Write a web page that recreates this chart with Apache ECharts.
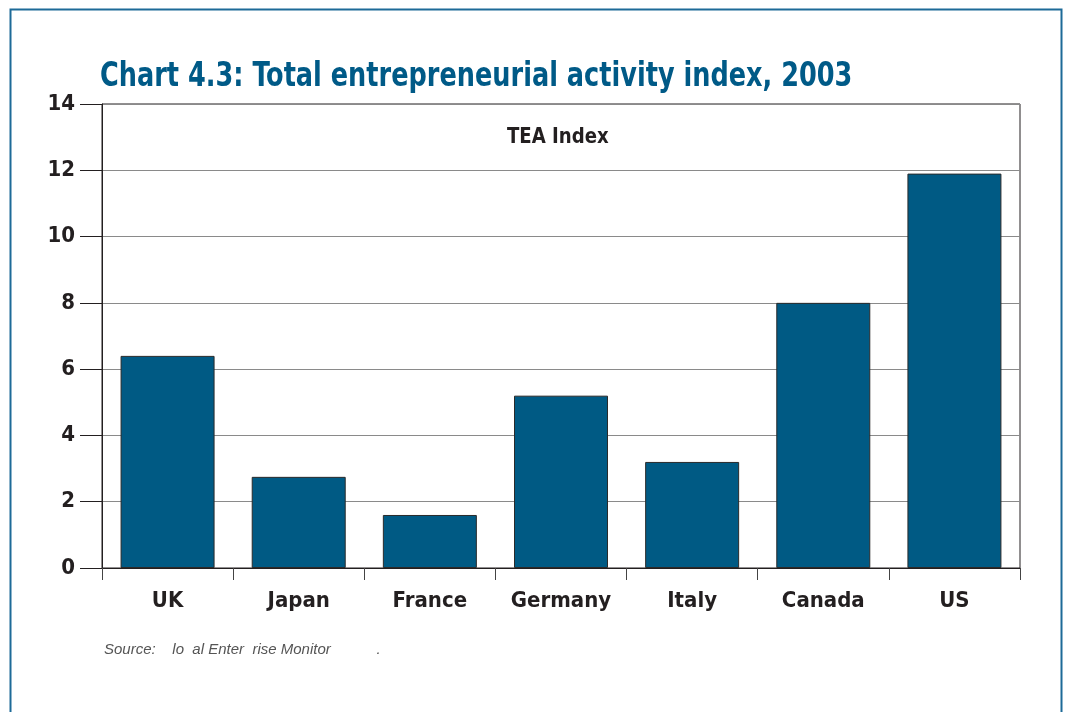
<!DOCTYPE html>
<html>
<head>
<meta charset="utf-8">
<script src="https://cdn.jsdelivr.net/npm/echarts@6/dist/echarts.min.js"></script>
<style>
html,body{margin:0;padding:0;background:#fff;}
#chart{width:1068px;height:712px;}
</style>
</head>
<body>
<div id="chart"></div>
<script>
const categories = ['UK', 'Japan', 'France', 'Germany', 'Italy', 'Canada', 'US'];
const teaValues = [6.4, 2.75, 1.6, 5.2, 3.2, 8.0, 11.9];
const yMin = 0, yMax = 14, yStep = 2;
const titleText = 'Chart 4.3: Total entrepreneurial activity index, 2003';
const seriesName = 'TEA Index';
const sourceText = 'Source:    lo  al Enter  rise Monitor           .';

const narrow = '"DejaVu Sans Condensed", sans-serif';
const chart = echarts.init(document.getElementById('chart'));
chart.setOption({
  animation: false,
  backgroundColor: '#ffffff',
  grid: {
    left: 102, right: 48, top: 104, bottom: 144,
    show: true, borderColor: '#231f20', borderWidth: 1, backgroundColor: 'transparent'
  },
  graphic: [
    { type: 'rect', shape: { x: 10.5, y: 9.5, width: 1051, height: 720 },
      style: { fill: 'none', stroke: '#1d6a98', lineWidth: 2 }, silent: true },
    { type: 'text', x: 100, y: 60, scaleX: 0.836, originX: 0,
      style: { text: titleText, fill: '#005a87', font: 'bold 34px ' + narrow } },
    { type: 'text', x: 104, y: 642,
      style: { text: sourceText, fill: '#555555', font: 'italic 15px "Liberation Sans", sans-serif' } },
    { type: 'text', x: 507, y: 127, scaleX: 0.96, originX: 0,
      style: { text: seriesName, fill: '#231f20', font: 'bold 21px ' + narrow } }
  ],
  xAxis: {
    type: 'category',
    data: categories,
    boundaryGap: true,
    axisLine: { show: true, lineStyle: { color: '#231f20', width: 1 } },
    axisTick: { show: true, interval: 0, alignWithLabel: false, length: 12, lineStyle: { color: '#444' } },
    axisLabel: { interval: 0, margin: 22, color: '#231f20', fontSize: 22, fontWeight: 'bold', fontFamily: narrow }
  },
  yAxis: {
    type: 'value',
    min: yMin, max: yMax, interval: yStep,
    axisLine: { show: true, lineStyle: { color: '#231f20', width: 1 } },
    axisTick: { show: true, length: 22, lineStyle: { color: '#231f20' } },
    axisLabel: { margin: 27, color: '#231f20', fontSize: 22, fontWeight: 'bold', fontFamily: narrow },
    splitLine: { show: true, lineStyle: { color: '#8a8a8a', width: 1 } }
  },
  series: [{
    name: seriesName,
    type: 'bar',
    data: teaValues,
    barWidth: 94,
    itemStyle: { color: '#005a84', borderColor: '#2a2a2a', borderWidth: 1 }
  }]
});
</script>
</body>
</html>
